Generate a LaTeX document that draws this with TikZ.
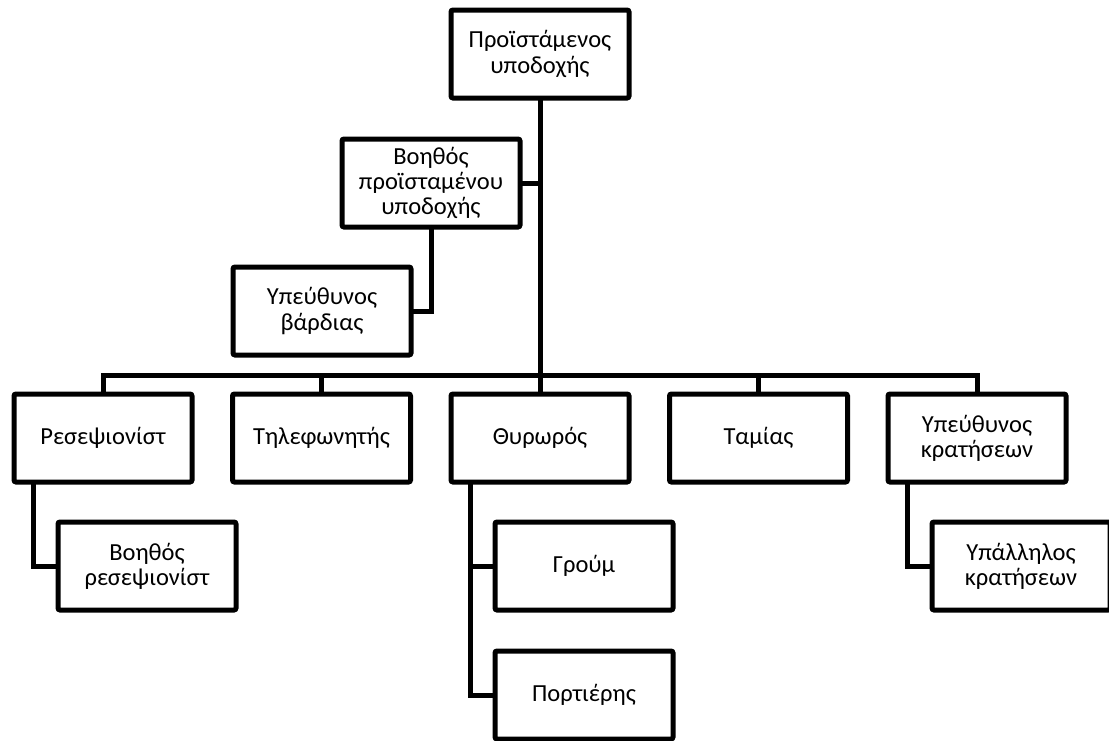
\documentclass[tikz,border=0pt]{standalone}
\usepackage{fontspec}
\setmainfont{Carlito}
\usetikzlibrary{positioning}
\tikzset{
  box/.style={draw, line width=5pt, rounded corners=2pt, align=center, minimum width=178pt, minimum height=88pt, inner sep=2pt, outer sep=0pt, fill=white, font=\fontsize{24.5}{25.3}\selectfont},
  conn/.style={line width=5pt},
}
\begin{document}
\begin{tikzpicture}[x=1pt, y=1pt, node distance=40pt and 40.5pt]
\useasboundingbox (0,0) rectangle (1109,-740);
\node[box] (chief) at (540,-54) {Προϊστάμενος\\υποδοχής};
\node[box] (assist) at (431,-183) {Βοηθός\\προϊσταμένου\\υποδοχής};
\node[box, below=40pt of assist, xshift=-109pt] (shift) {Υπεύθυνος\\βάρδιας};
\node[box] (rec) at (103,-438) {Ρεσεψιονίστ};
\node[box, right=of rec] (tel) {Τηλεφωνητής};
\node[box, right=of tel] (door) {Θυρωρός};
\node[box, right=of door] (cash) {Ταμίας};
\node[box, right=of cash] (resv) {Υπεύθυνος\\κρατήσεων};
\node[box, below=of rec, xshift=44pt] (recasst) {Βοηθός\\ρεσεψιονίστ};
\node[box, below=of door, xshift=44pt] (groom) {Γρούμ};
\node[box, below=41pt of groom] (porter) {Πορτιέρης};
\node[box, below=of resv, xshift=44pt] (clerk) {Υπάλληλος\\κρατήσεων};
\coordinate (bus) at (540,-375);
\draw[conn] (chief) -- (door);
\draw[conn] (assist) -- (assist -| chief);
\draw[conn] (assist) |- (shift);
\draw[conn] (rec) -- (rec |- bus) -- (resv |- bus) -- (resv);
\draw[conn] (tel) -- (tel |- bus);
\draw[conn] (cash) -- (cash |- bus);
\draw[conn] ([xshift=19pt]rec.south west) |- (recasst);
\draw[conn] ([xshift=19pt]door.south west) |- (groom);
\draw[conn] ([xshift=19pt]door.south west) |- (porter);
\draw[conn] ([xshift=19pt]resv.south west) |- (clerk);
\end{tikzpicture}
\end{document}
